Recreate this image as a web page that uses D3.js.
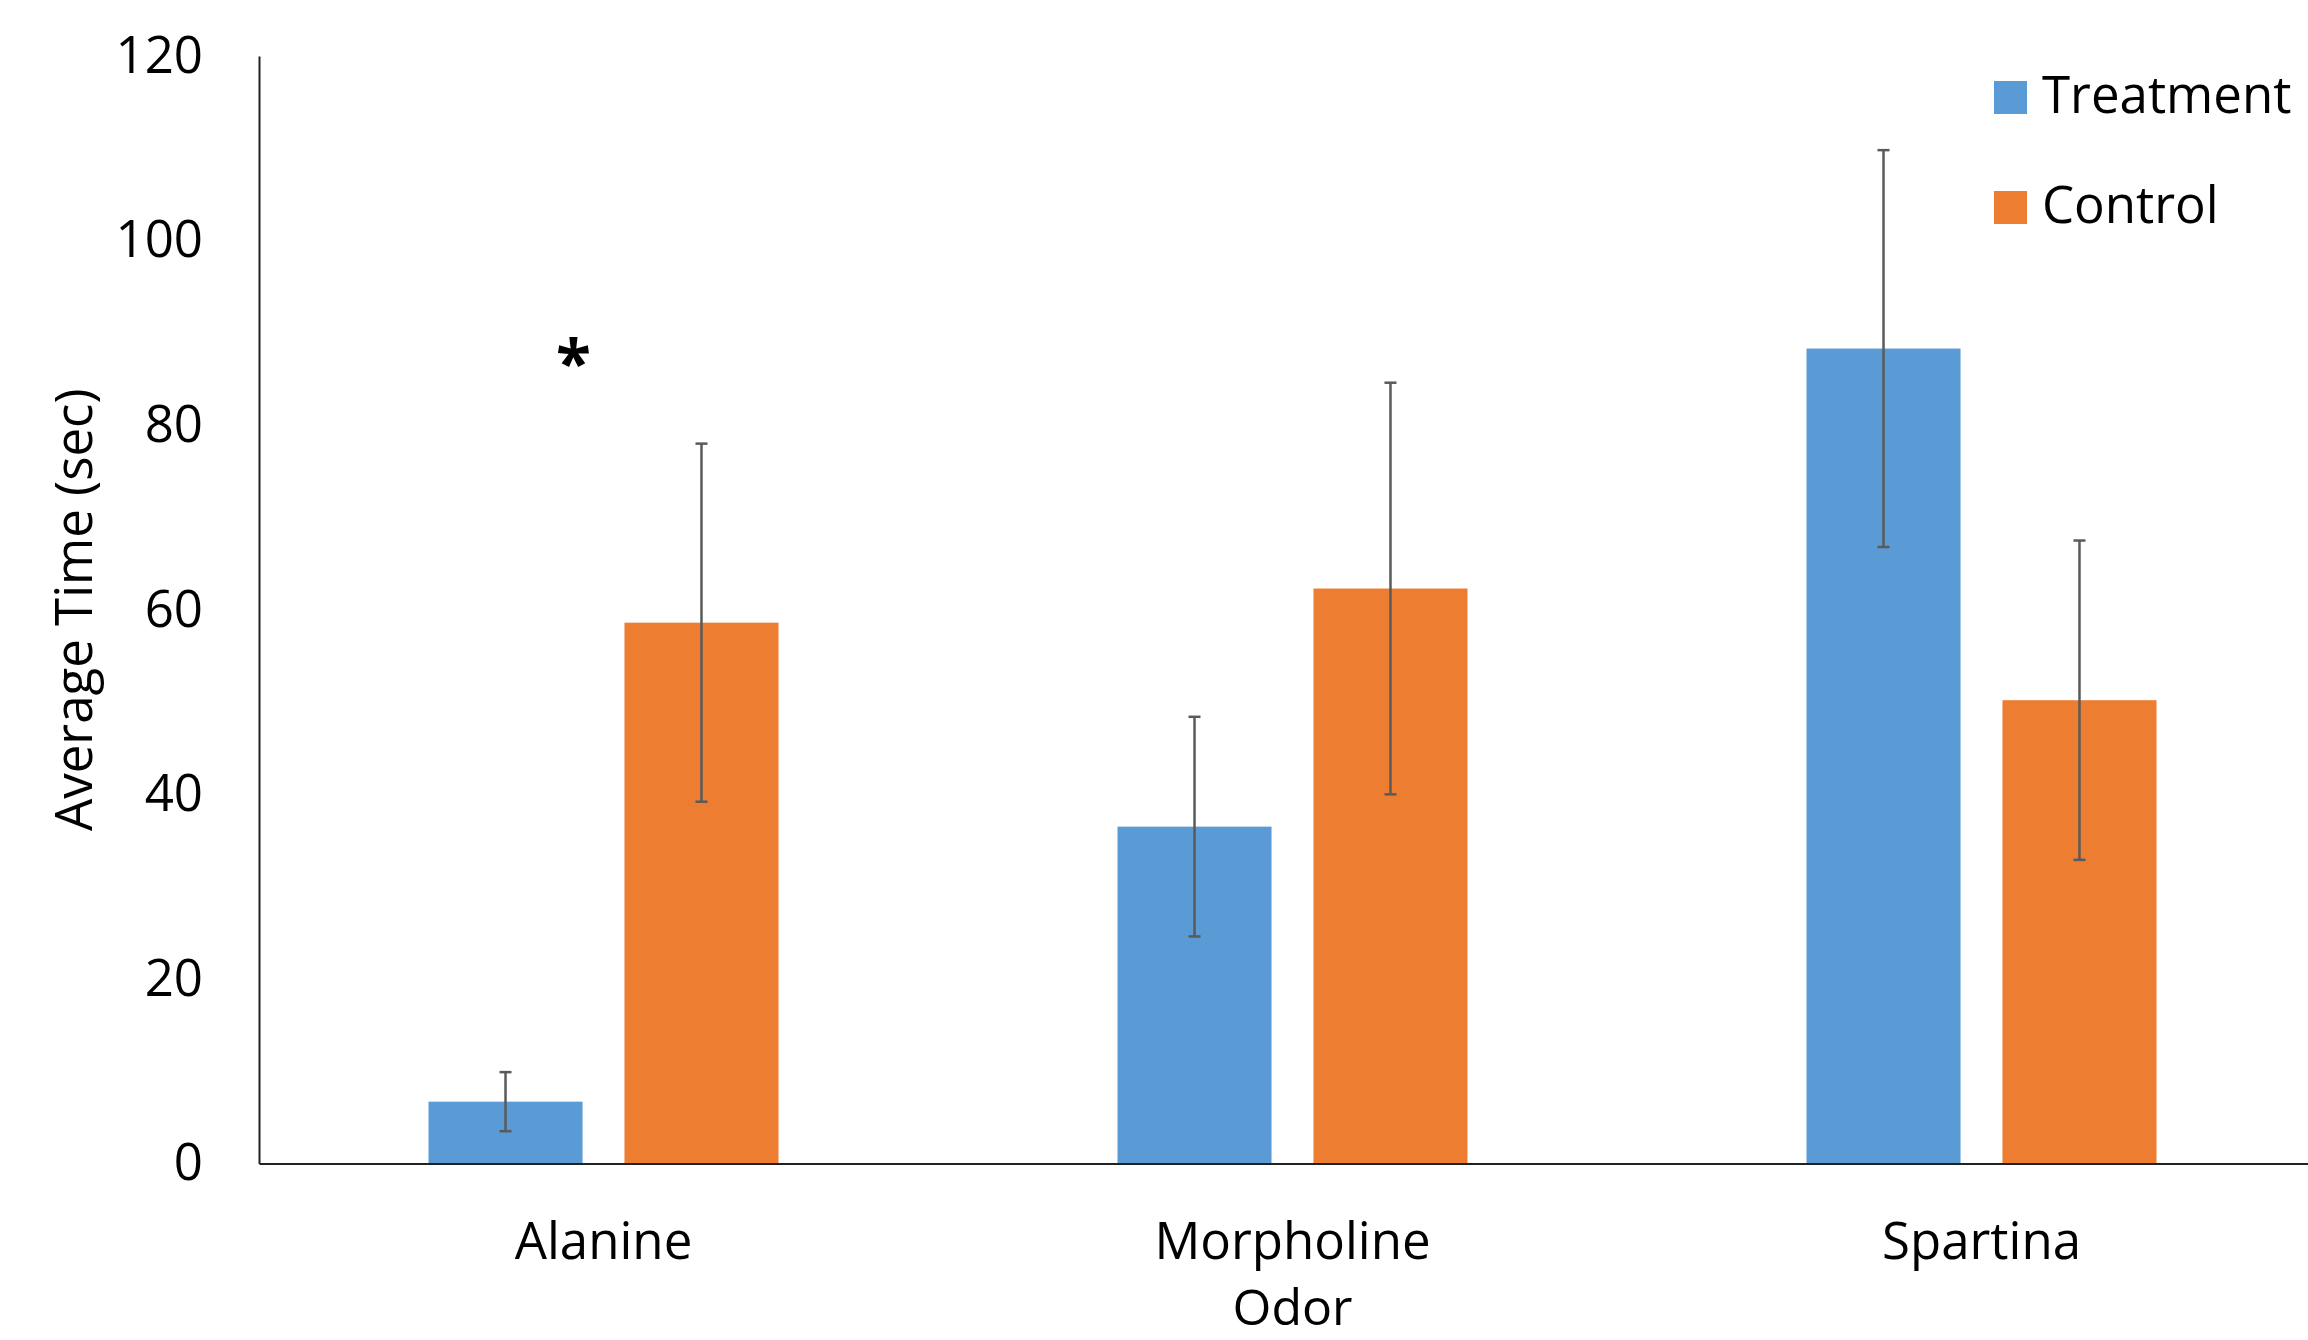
<!DOCTYPE html>
<html>
<head>
<meta charset="utf-8">
<script src="https://cdn.jsdelivr.net/npm/d3@7"></script>
<style>
  body { margin: 0; background: white; }
  text { font-family: "Open Sans", "Noto Sans", sans-serif; fill: #000; }
</style>
</head>
<body>
<div id="chart"></div>
<script>
var width = 2308
var height = 1340
var margin = {top: 56, left: 259, bottom: 176.5}

// Data

var categories = ["Alanine", "Morpholine", "Spartina"]
var series = ["Treatment", "Control"]
var treatment = [6.7, 36.5, 88.3]
var treatment_err = [3.2, 11.9, 21.5]
var control = [58.6, 62.3, 50.2]
var control_err = [19.4, 22.3, 17.3]
var y_ticks = [0, 20, 40, 60, 80, 100, 120]
var stars = [{category: "Alanine", y: 88}]

var colors = {"Treatment": "#5B9BD5", "Control": "#ED7D31"}

var rows = []
for (i = 0; i < categories.length; i++) {
    rows.push({cat: categories[i], s: "Treatment", v: treatment[i], e: treatment_err[i]})
    rows.push({cat: categories[i], s: "Control", v: control[i], e: control_err[i]})
}

// Scales

var y_scale = d3.scaleLinear()
    .domain([0, 120])
    .range([height - margin.bottom, margin.top]);

var x_scale = d3.scaleBand()
    .domain(categories)
    .range([margin.left, margin.left + 3 * 689])
    .padding(0);

var x_inner = d3.scaleBand()
    .domain(series)
    .range([x_scale.bandwidth() / 2 - 175, x_scale.bandwidth() / 2 + 175])
    .paddingInner(0.214);

var svg = d3.select("#chart")
    .append("svg")
    .attr("width", width)
    .attr("height", height)
    .style("background-color", "white")

// Bars

svg.append("g")
    .selectAll("rect")
    .data(rows)
    .enter()
    .append("rect")
    .attr("x", function(d) { return x_scale(d.cat) + x_inner(d.s); })
    .attr("y", function(d) { return y_scale(d.v); })
    .attr("width", x_inner.bandwidth())
    .attr("height", function(d) { return y_scale(0) - y_scale(d.v); })
    .style("fill", function(d) { return colors[d.s]; })

// Error bars

var err = svg.append("g")
    .attr("stroke", "#5a5a5a")
    .attr("stroke-width", 2.5)

rows.forEach(function(d) {
    var cx = x_scale(d.cat) + x_inner(d.s) + x_inner.bandwidth() / 2
    err.append("line")
        .attr("x1", cx).attr("x2", cx)
        .attr("y1", y_scale(d.v + d.e)).attr("y2", y_scale(d.v - d.e))
    err.append("line")
        .attr("x1", cx - 6).attr("x2", cx + 6)
        .attr("y1", y_scale(d.v + d.e)).attr("y2", y_scale(d.v + d.e))
    err.append("line")
        .attr("x1", cx - 6).attr("x2", cx + 6)
        .attr("y1", y_scale(d.v - d.e)).attr("y2", y_scale(d.v - d.e))
})

// Axes

var yAxis = d3.axisLeft(y_scale)
    .tickValues(y_ticks)
    .tickSize(0)
    .tickPadding(56);

var xAxis = d3.axisBottom(x_scale)
    .tickSize(0)
    .tickPadding(59);

svg.append("g")
    .attr("class", "y axis")
    .attr("transform", "translate(" + margin.left + ",0)")
    .call(yAxis);

svg.append("g")
    .attr("class", "x axis")
    .attr("transform", "translate(0," + y_scale(0) + ")")
    .call(xAxis);

svg.selectAll(".axis path.domain")
    .attr("stroke", "#222")
    .attr("stroke-width", 2)

svg.selectAll(".axis text")
    .style("font-family", "'Open Sans', 'Noto Sans', sans-serif")
    .style("font-size", "51px")
    .style("fill", "#000")

// Axis titles

svg.append("text")
    .attr("transform", "translate(92," + ((y_scale(0) + y_scale(120)) / 2) + ") rotate(-90)")
    .attr("text-anchor", "middle")
    .style("font-size", "51px")
    .text("Average Time (sec)")

svg.append("text")
    .attr("x", x_scale("Morpholine") + x_scale.bandwidth() / 2)
    .attr("y", 1325)
    .attr("text-anchor", "middle")
    .style("font-size", "50px")
    .text("Odor")

// Significance marker

svg.selectAll(".star")
    .data(stars)
    .enter()
    .append("text")
    .attr("class", "star")
    .attr("x", function(d) { return x_scale(d.category) + x_scale.bandwidth() / 2 - 30; })
    .attr("y", function(d) { return y_scale(d.y) + 35; })
    .attr("text-anchor", "middle")
    .style("font-size", "64px")
    .style("font-weight", "bold")
    .text("*")

// Legend

var legend = svg.append("g")
    .selectAll("g")
    .data(series)
    .enter()
    .append("g")
    .attr("transform", function(d, i) { return "translate(1994," + (81 + i * 110) + ")"; })

legend.append("rect")
    .attr("width", 33)
    .attr("height", 33)
    .style("fill", function(d) { return colors[d]; })

legend.append("text")
    .attr("x", 48)
    .attr("y", 32)
    .style("font-size", "51px")
    .text(function(d) { return d; })
</script>
</body>
</html>
